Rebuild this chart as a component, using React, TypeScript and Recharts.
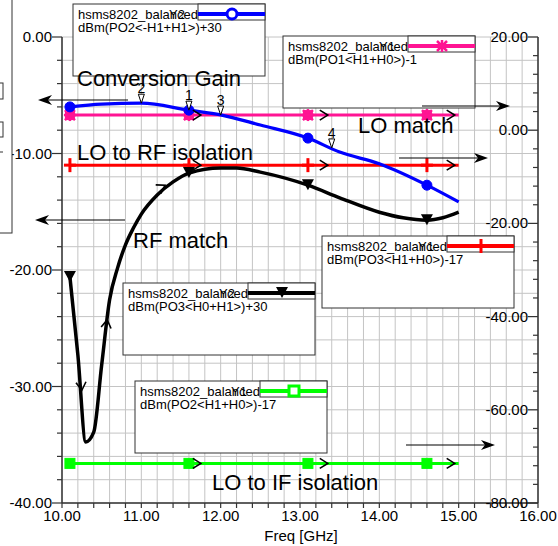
import React from "react";
import { LineChart, Line, XAxis, YAxis, CartesianGrid, ReferenceDot } from "recharts";

const FONT = "'Liberation Sans', Arial, sans-serif";
const AXIS = "#333333";
const GRID = "#c4c4c4";

const BLUE = "#0000ff";
const PINK = "#ff1493";
const RED = "#ff0000";
const BLACK = "#000000";
const GREEN = "#00ff00";

// sweep points where the trace symbols sit
const symbolFreq = [10.1, 11.6, 13.1, 14.6];

// conversion gain, Y2 (right axis)
const gainFreq = [10.1, 10.5, 11.0, 11.6, 12.0, 12.5, 13.1, 13.5, 14.0, 14.6, 15.0];
const gainDb = [5.0, 5.6, 5.8, 4.3, 3.3, 1.1, -1.7, -4.7, -7.2, -11.8, -15.4];

// RF match, Y2 (right axis)
const rfFreq = [10.1, 10.2, 10.3, 10.4, 10.5, 10.6, 10.7, 10.8, 10.9, 11.0, 11.2, 11.4, 11.6, 12.0, 12.2, 12.5, 13.1, 13.5, 14.0, 14.3, 14.6, 14.8, 15.0];
const rfMatchDb = [-31.5, -48.2, -66.9, -64.8, -50.4, -36.4, -29.6, -24.6, -21.0, -18.0, -13.9, -11.1, -9.2, -8.1, -8.1, -9.0, -11.8, -14.5, -17.6, -18.8, -19.3, -18.8, -17.6];

// flat traces, Y1 (left axis)
const flatFreq = [10.1, 11.6, 13.1, 14.6, 15.0];
const loMatchDb = [-6.7, -6.7, -6.7, -6.7, -6.7];
const loRfIsoDb = [-11.0, -11.0, -11.0, -11.0, -11.0];
const loIfIsoDb = [-36.6, -36.6, -36.6, -36.6, -36.6];

// direction arrows
const flatArrowFreq = [11.75, 13.35, 14.95];
const rfArrowFreq = [10.25, 10.57, 11.3];
const rfArrowDb = [-55.8, -40.7, -11.8];
const rfArrowAngle = [84, -82, -30];

// ADS markers m1..m4
const markerLabels = ["2", "1", "3", "4"];
const markerFreq = [11.0, 11.6, 12.0, 13.4];
const markerDb = [5.8, 4.3, -6.7, -3.8];
const markerAxis = ["right", "right", "left", "right"];

const xTicks = Array.from({ length: 31 }, (_, i) => +(10 + i * 0.2).toFixed(1));
const leftTicks = Array.from({ length: 21 }, (_, i) => -40 + i * 2);
const rightTicks = Array.from({ length: 26 }, (_, i) => -80 + i * 4);

const toRows = (fs: number[], vs: number[]) => fs.map((f, i) => ({ f, v: vs[i] }));

const symbol = (kind: string, cx: number, cy: number, color: string, hollow: boolean) => {
  switch (kind) {
    case "circle":
      return <circle cx={cx} cy={cy} r={5} fill={hollow ? "#fff" : color} stroke={color} strokeWidth={hollow ? 3 : 1} />;
    case "star":
      return (
        <g stroke={color} strokeWidth={2.5}>
          {!hollow && <rect x={cx - 5} y={cy - 5} width={10} height={10} fill={color} stroke="none" />}
          <line x1={cx - 5} x2={cx + 5} y1={cy - 5} y2={cy + 5} />
          <line x1={cx - 5} x2={cx + 5} y1={cy + 5} y2={cy - 5} />
          <line x1={cx} x2={cx} y1={cy - 6} y2={cy + 6} />
          <line x1={cx - 6} x2={cx + 6} y1={cy} y2={cy} />
        </g>
      );
    case "plus":
      return (
        <g stroke={color} strokeWidth={3}>
          <line x1={cx} x2={cx} y1={cy - 7} y2={cy + 7} />
          <line x1={cx - 6} x2={cx + 6} y1={cy} y2={cy} />
        </g>
      );
    case "tri":
      return <path d={`M${cx - 6},${cy - 6} L${cx + 6},${cy - 6} L${cx},${cy + 5} Z`} fill={color} />;
    default:
      return <rect x={cx - 5} y={cy - 5} width={10} height={10} fill={hollow ? "#fff" : color} stroke={color} strokeWidth={hollow ? 3 : 1} />;
  }
};

const dotAt = (kind: string, color: string) => (p: any) =>
  symbolFreq.includes(p.payload.f) ? (
    <g key={`s${p.index}`}>{symbol(kind, p.cx, p.cy, color, false)}</g>
  ) : (
    <g key={`s${p.index}`} />
  );

const Chevron = ({ cx, cy, angle }: any) => (
  <path
    d={`M${cx - 8},${cy - 5} L${cx},${cy} L${cx - 8},${cy + 5}`}
    transform={`rotate(${angle} ${cx} ${cy})`}
    fill="none"
    stroke="#000"
    strokeWidth={1.6}
  />
);

const MarkerTag = ({ cx, cy, label }: any) => (
  <g>
    <path d={`M${cx - 3},${cy - 9} L${cx + 3},${cy - 9} L${cx},${cy} Z`} fill="#fff" stroke="#000" strokeWidth={1} />
    <text x={cx} y={cy - 10} textAnchor="middle" fontSize={14} fontFamily={FONT} fill="#000">
      {label}
    </text>
  </g>
);

const LeftTick = ({ x, y, payload }: any) => {
  const major = payload.value % 10 === 0;
  return (
    <g>
      <line x1={x - (major ? 10 : 5)} x2={x} y1={y} y2={y} stroke={AXIS} strokeWidth={1.2} />
      {major && (
        <text x={x - 10} y={y + 5} textAnchor="end" fontSize={15} fontFamily={FONT} fill="#000">
          {payload.value.toFixed(2)}
        </text>
      )}
    </g>
  );
};

const RightTick = ({ x, y, payload }: any) => {
  const major = payload.value % 20 === 0;
  return (
    <g>
      <line x1={x - (major ? 10 : 5)} x2={x} y1={y} y2={y} stroke={AXIS} strokeWidth={1.2} />
      {major && (
        <text x={x - 10} y={y + 5} textAnchor="end" fontSize={15} fontFamily={FONT} fill="#000">
          {payload.value.toFixed(2)}
        </text>
      )}
    </g>
  );
};

const BottomTick = ({ x, y, payload }: any) => {
  const major = Math.abs(payload.value - Math.round(payload.value)) < 1e-6;
  return (
    <g>
      <line x1={x} x2={x} y1={y} y2={y + 5} stroke={AXIS} strokeWidth={1.2} />
      {major && (
        <text x={x} y={y + 18} textAnchor="middle" fontSize={15} fontFamily={FONT} fill="#000">
          {payload.value.toFixed(2)}
        </text>
      )}
    </g>
  );
};

const legends = [
  { x: 73, y: 4, color: BLUE, kind: "circle", yl: "Y2", expr: "dBm(PO2<-H1+H1>)+30" },
  { x: 283, y: 36, color: PINK, kind: "star", yl: "Y1", expr: "dBm(PO1<H1+H0>)-1" },
  { x: 322, y: 236, color: RED, kind: "plus", yl: "Y1", expr: "dBm(PO3<H1+H0>)-17" },
  { x: 123, y: 283, color: BLACK, kind: "tri", yl: "Y2", expr: "dBm(PO3<H0+H1>)+30" },
  { x: 135, y: 381, color: GREEN, kind: "square", yl: "Y1", expr: "dBm(PO2<H1+H0>)-17" },
];

const LegendBox = ({ x, y, color, kind, yl, expr }: any) => {
  const cx = x + 125;
  return (
    <g fontFamily={FONT} fontSize={13} fill="#000">
      <rect x={x} y={y} width={192} height={72} fill="#fff" stroke={AXIS} />
      <text x={x + 5} y={y + 15}>hsms8202_balanced</text>
      <text x={x + 96} y={y + 15}>{yl}</text>
      <text x={x + 5} y={y + 28}>{expr}</text>
      <rect x={cx} y={y} width={67} height={16} fill="#fff" stroke={AXIS} />
      <line x1={cx} x2={cx + 67} y1={y + 10} y2={y + 10} stroke={color} strokeWidth={4} />
      {symbol(kind, cx + 34, y + 10, color, true)}
    </g>
  );
};

const arrowHead = (tx: number, y: number, dir: number) =>
  `M${tx},${y} L${tx - dir * 14},${y - 5} L${tx - dir * 10},${y} L${tx - dir * 14},${y + 5} Z`;

const arrows = [
  { from: 128, to: 38, y: 100 },
  { from: 125, to: 35, y: 220 },
  { from: 422, to: 510, y: 106 },
  { from: 399, to: 488, y: 158 },
  { from: 406, to: 495, y: 445 },
];

const notes = [
  { text: "Conversion Gain", x: 77, y: 86 },
  { text: "LO to RF isolation", x: 77, y: 160 },
  { text: "LO match", x: 358, y: 133 },
  { text: "RF match", x: 133, y: 248 },
  { text: "LO to IF isolation", x: 212, y: 490 },
];

export default function App() {
  return (
    <div style={{ position: "absolute", left: 0, top: 0, width: 558, height: 546, background: "#fff" }}>
      <LineChart width={558} height={546} margin={{ top: 37, right: 0, bottom: 0, left: 0 }}>
        <CartesianGrid yAxisId="left" stroke={GRID} strokeWidth={1} />
        <XAxis
          dataKey="f"
          type="number"
          domain={[10, 16]}
          ticks={xTicks}
          interval={0}
          height={43}
          tickSize={0}
          tickMargin={0}
          tick={<BottomTick />}
          axisLine={{ stroke: AXIS, strokeWidth: 1.5 }}
          allowDuplicatedCategory={false}
        />
        <YAxis
          yAxisId="left"
          domain={[-40, 0]}
          ticks={leftTicks}
          interval={0}
          width={62}
          tickSize={0}
          tickMargin={0}
          tick={<LeftTick />}
          axisLine={{ stroke: AXIS, strokeWidth: 1.5 }}
        />
        <YAxis
          yAxisId="right"
          orientation="right"
          domain={[-80, 20]}
          ticks={rightTicks}
          interval={0}
          width={20}
          tickSize={0}
          tickMargin={0}
          tick={<RightTick />}
          axisLine={{ stroke: AXIS, strokeWidth: 1.5 }}
        />
        <Line yAxisId="left" data={toRows(flatFreq, loIfIsoDb)} dataKey="v" type="linear" stroke={GREEN} strokeWidth={3} dot={dotAt("square", GREEN)} isAnimationActive={false} />
        <Line yAxisId="left" data={toRows(flatFreq, loRfIsoDb)} dataKey="v" type="linear" stroke={RED} strokeWidth={3} dot={dotAt("plus", RED)} isAnimationActive={false} />
        <Line yAxisId="left" data={toRows(flatFreq, loMatchDb)} dataKey="v" type="linear" stroke={PINK} strokeWidth={3} dot={dotAt("star", PINK)} isAnimationActive={false} />
        <Line yAxisId="right" data={toRows(rfFreq, rfMatchDb)} dataKey="v" type="monotone" stroke={BLACK} strokeWidth={3.5} dot={dotAt("tri", BLACK)} isAnimationActive={false} />
        <Line yAxisId="right" data={toRows(gainFreq, gainDb)} dataKey="v" type="monotone" stroke={BLUE} strokeWidth={3.2} dot={dotAt("circle", BLUE)} isAnimationActive={false} />
        {[loMatchDb, loRfIsoDb, loIfIsoDb].map((vals, s) =>
          flatArrowFreq.map((f, i) => (
            <ReferenceDot key={`fa${s}-${i}`} yAxisId="left" x={f} y={vals[0]} shape={(p: any) => <Chevron cx={p.cx} cy={p.cy} angle={0} />} />
          ))
        )}
        {rfArrowFreq.map((f, i) => (
          <ReferenceDot key={`ra${i}`} yAxisId="right" x={f} y={rfArrowDb[i]} shape={(p: any) => <Chevron cx={p.cx} cy={p.cy} angle={rfArrowAngle[i]} />} />
        ))}
        {markerLabels.map((l, i) => (
          <ReferenceDot key={`m${l}`} yAxisId={markerAxis[i]} x={markerFreq[i]} y={markerDb[i]} shape={(p: any) => <MarkerTag cx={p.cx} cy={p.cy} label={l} />} />
        ))}
      </LineChart>
      <svg width={558} height={546} style={{ position: "absolute", left: 0, top: 0, pointerEvents: "none" }}>
        {/* partly hidden box at the left edge */}
        <rect x={-60} y={-10} width={72} height={243} fill="#fff" stroke={AXIS} />
        <rect x={-10} y={83} width={13} height={16} fill="#fff" stroke={AXIS} />
        <rect x={-10} y={122} width={13} height={15} fill="#fff" stroke={AXIS} />
        <line x1={0} x2={3} y1={152} y2={152} stroke={AXIS} />
        {legends.map((l) => (
          <LegendBox key={l.expr} {...l} />
        ))}
        {arrows.map((a, i) => {
          const dir = a.to > a.from ? 1 : -1;
          return (
            <g key={i}>
              <line x1={a.from} x2={a.to - dir * 10} y1={a.y} y2={a.y} stroke="#000" strokeWidth={1.2} />
              <path d={arrowHead(a.to, a.y, dir)} fill="#000" />
            </g>
          );
        })}
        {notes.map((n) => (
          <text key={n.text} x={n.x} y={n.y} fontSize={22} fontFamily={FONT} fill="#000">
            {n.text}
          </text>
        ))}
        <text x={301} y={541} textAnchor="middle" fontSize={15} fontFamily={FONT} fill="#000">
          Freq [GHz]
        </text>
      </svg>
    </div>
  );
}
